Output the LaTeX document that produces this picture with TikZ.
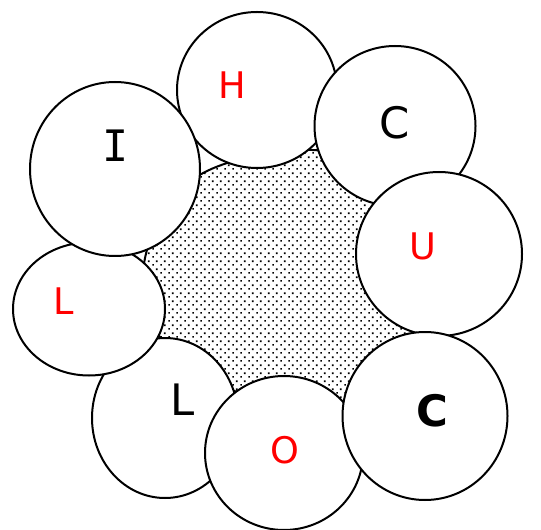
\documentclass[tikz,border=0pt]{standalone}
\usepackage{fontspec}
\setmainfont{DejaVu Sans}
\newfontfamily\serifI{DejaVu Sans Mono}
\usetikzlibrary{shapes.geometric,patterns}
\pgfdeclarepatternformonly{mydots}{\pgfqpoint{0pt}{0pt}}{\pgfqpoint{6pt}{6pt}}{\pgfqpoint{6pt}{6pt}}{%
  \pgfpathrectangle{\pgfqpoint{0.3pt}{0.3pt}}{\pgfqpoint{1.35pt}{1.35pt}}%
  \pgfpathrectangle{\pgfqpoint{3.3pt}{3.3pt}}{\pgfqpoint{1.35pt}{1.35pt}}%
  \pgfusepath{fill}}
\tikzset{
  blob/.style={ellipse, draw=black, fill=white, line width=1.5pt, inner sep=0pt},
  redtxt/.style={text=red, font=\fontsize{27.5pt}{30pt}\selectfont, inner sep=0pt},
  blacktxt/.style={text=black, font=\fontsize{32.5pt}{36pt}\selectfont, inner sep=0pt},
}
\begin{document}
\begin{tikzpicture}[x=0.75pt, y=-0.75pt]
\useasboundingbox (0,0) rectangle (541,530);
% central dotted region
\draw[line width=1.5pt, pattern=mydots, pattern color=black]
  plot[smooth cycle, tension=0.6] coordinates {(300,150) (375,170) (425,230) (428,330) (345,402) (245,395) (162,340) (145,258) (195,178)};
% ellipses in stacking order
\node[blob, minimum width=120pt, minimum height=117pt] (eH) at (257,90) {};
\node[blob, minimum width=120.75pt, minimum height=120pt] (eC1) at (395,126) {};
\node[blob, minimum width=124.5pt, minimum height=123pt] (eU) at (439,254) {};
\node[blob, minimum width=109.5pt, minimum height=120pt] (eL2) at (165,418) {};
\node[blob, minimum width=118.5pt, minimum height=115.5pt] (eO) at (284,453) {};
\node[blob, minimum width=123.75pt, minimum height=126pt] (eC2) at (425,416) {};
\node[blob, minimum width=114pt, minimum height=99.75pt] (eL1) at (89,309) {};
\node[blob, minimum width=127.5pt, minimum height=130.5pt] (eI) at (115,169) {};
% letters
\node[redtxt] (tH) at (232.5,85.5) {H};
\node[blacktxt] (tI) at (116,146) {\serifI I};
\node[blacktxt] (tC1) at (395,123) {C};
\node[redtxt] (tU) at (423,246) {U};
\node[redtxt] (tL1) at (64,301) {L};
\node[blacktxt] (tL2) at (183,400) {L};
\node[redtxt] (tO) at (285,450) {O};
\node[blacktxt, font=\fontsize{32.5pt}{36pt}\selectfont\bfseries] (tC2) at (432,411) {C};
\end{tikzpicture}
\end{document}
